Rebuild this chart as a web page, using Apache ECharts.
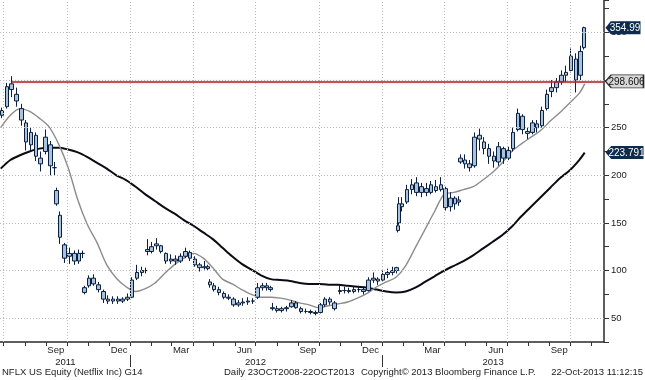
<!DOCTYPE html>
<html><head><meta charset="utf-8">
<script src="https://cdn.jsdelivr.net/npm/echarts@6/dist/echarts.min.js"></script>
<style>html,body{margin:0;padding:0;background:#fff}#c{width:645px;height:380px}</style>
</head><body><div id="c"></div>
<script>
// ---- price bars (OHLC, mostly weekly; split around gap days) ----
const barDates = ['2011-06-29','2011-07-06','2011-07-13','2011-07-20','2011-07-27','2011-08-03','2011-08-10','2011-08-17','2011-08-24','2011-08-31',
'2011-09-07','2011-09-13','2011-09-16','2011-09-21','2011-09-28','2011-10-05','2011-10-12','2011-10-19','2011-10-24','2011-10-27',
'2011-11-02','2011-11-09','2011-11-16','2011-11-23','2011-11-30','2011-12-07','2011-12-14','2011-12-21','2011-12-28','2012-01-04',
'2012-01-11','2012-01-18','2012-01-23','2012-01-26','2012-02-01','2012-02-08','2012-02-15','2012-02-22','2012-02-29','2012-03-07',
'2012-03-14','2012-03-21','2012-03-28','2012-04-04','2012-04-11','2012-04-18','2012-04-23','2012-04-26','2012-05-02','2012-05-09',
'2012-05-16','2012-05-23','2012-05-30','2012-06-06','2012-06-13','2012-06-20','2012-06-27','2012-07-04','2012-07-11','2012-07-18',
'2012-07-23','2012-07-26','2012-08-01','2012-08-08','2012-08-15','2012-08-22','2012-08-29','2012-09-05','2012-09-12','2012-09-19',
'2012-09-26','2012-10-03','2012-10-10','2012-10-17','2012-10-24','2012-11-01','2012-11-07','2012-11-14','2012-11-21','2012-11-28',
'2012-12-05','2012-12-12','2012-12-19','2012-12-26','2013-01-02','2013-01-09','2013-01-16','2013-01-22','2013-01-24','2013-01-25',
'2013-01-30','2013-02-06','2013-02-13','2013-02-20','2013-02-27','2013-03-06','2013-03-13','2013-03-20','2013-03-27','2013-04-03',
'2013-04-10','2013-04-17','2013-04-22','2013-04-25','2013-05-01','2013-05-08','2013-05-15','2013-05-22','2013-05-29','2013-06-05',
'2013-06-12','2013-06-19','2013-06-26','2013-07-03','2013-07-10','2013-07-17','2013-07-24','2013-07-31','2013-08-07','2013-08-14',
'2013-08-21','2013-08-28','2013-09-04','2013-09-11','2013-09-18','2013-09-25','2013-10-02','2013-10-09','2013-10-16','2013-10-21'];
const barOpen = [263,272,296,285,270,255,232,242,218,225, 232,208,184,158,127,115,118,110,118,77, 84,92,85,78,70,68,70,68,70,72,
92,98,100,122,120,126,126,118,110,112, 110,115,119,112,106,103,104,88,84,80, 76,72,70,64,66,67,68,72,82,84,
82,60,60,58,60,62,66,60,57,57, 56,56,64,70,66,78,79,79,78,80, 80,79,90,91,90,96,98,100,142,150,
167,172,185,192,182,186,182,188,185,186, 167,176,172,214,216,212,210,242,235,228, 220,214,228,218,228,248,262,246,245,254,
252,270,288,292,298,305,310,322,305,334];
const barClose = [268,293,290,278,258,235,245,220,212,240, 210,208,170,135,113,118,110,118,118,82, 92,86,80,70,68,70,68,70,72,90,
98,100,100,120,125,128,120,110,112,110, 115,120,113,106,103,104,102,85,80,77, 72,71,64,66,67,68,68,82,84,82,
80,61,58,60,61,66,61,57,57,56, 55,64,70,67,60,79,79,78,80,80, 78,90,92,89,96,98,100,103,147,170,
170,185,190,182,188,182,190,184,190,166, 176,170,174,218,212,208,240,238,228,220, 215,230,218,226,245,265,248,244,255,250,
268,285,292,298,305,308,325,300,330,354.99];
const barLow = [260,270,282,272,252,226,225,215,204,222, 200,200,168,128,108,107,106,107,113,75, 82,84,77,66,65,65,65,66,68,71,
90,94,97,116,118,122,118,107,107,106, 108,113,110,104,99,101,100,82,78,74, 70,69,62,62,63,64,65,70,79,79,
78,58,56,56,57,61,60,55,55,54, 53,55,62,64,58,75,76,76,76,77, 75,78,87,85,88,92,95,97,140,148,
162,170,180,178,177,178,180,182,183,163, 162,164,168,212,207,204,208,226,222,212, 208,210,212,216,225,246,243,238,243,245,
250,268,282,287,295,298,308,287,300,332];
const barHigh = [271,297,304,292,275,258,250,245,225,248, 236,214,187,162,129,124,121,122,121,84, 95,96,88,80,74,73,73,72,76,93,
106,104,103,133,130,134,127,119,117,116, 118,124,121,115,108,110,106,91,87,83, 78,75,72,69,71,72,71,87,87,87,
84,66,63,62,63,69,68,62,60,59, 58,66,72,72,68,85,83,82,83,84, 82,93,98,93,100,102,104,104,160,177,
177,190,196,198,192,192,194,195,198,188, 182,178,178,222,222,216,245,249,240,233, 225,235,230,230,250,270,264,250,258,258,
272,290,300,302,310,315,333,328,336,356];

// ---- moving averages (biweekly readings) ----
const maDates = ['2011-06-27','2011-07-11','2011-07-25','2011-08-08','2011-08-22','2011-09-05','2011-09-19','2011-10-03','2011-10-17','2011-10-31',
'2011-11-14','2011-11-28','2011-12-12','2011-12-26','2012-01-09','2012-01-23','2012-02-06','2012-02-20','2012-03-05','2012-03-19',
'2012-04-02','2012-04-16','2012-04-30','2012-05-14','2012-05-28','2012-06-11','2012-06-25','2012-07-09','2012-07-23','2012-08-06',
'2012-08-20','2012-09-03','2012-09-17','2012-10-01','2012-10-15','2012-10-29','2012-11-12','2012-11-26','2012-12-10','2012-12-24',
'2013-01-07','2013-01-21','2013-02-04','2013-02-18','2013-03-04','2013-03-18','2013-04-01','2013-04-15','2013-04-29','2013-05-13',
'2013-05-27','2013-06-10','2013-06-24','2013-07-08','2013-07-22','2013-08-05','2013-08-19','2013-09-02','2013-09-16','2013-09-30',
'2013-10-14','2013-10-22'];
const ma50 = [250,263,270,267,260,251,233,208,174,148, 129,106,92,83,78,81,87,97,106,113, 118,113,103,91,86,80,75,72,72,71,
69,66,64,61,63,65,67,71,76,83, 88,93,105,124,143,162,180,182,185,188, 195,203,213,225,233,240,247,257,266,276, 286,296];
const ma200 = [207,216,221,225,228,229,229,227,224,219, 213,207,200,195,188,180,173,166,160,153, 147,140,133,124,115,107,101,95,91,90,
89,87,86,86,85,85,84,83,82,80, 78,77,78,82,88,94,100,105,110,116, 123,130,137,146,157,167,177,187,197,205, 216,223.791];

// ---- reference levels / labels ----
const levelValue = 298.606, levelStart = '2011-07-13';
const lastPrice = 354.99, ma200Last = 223.791;
const axisStart = '2011-06-26', axisEnd = '2013-11-19';
const gridLevels = [50,100,150,200,250,300,350];
const gridQuarters = ['2011-07-01','2011-10-01','2012-01-01','2012-04-01','2012-07-01','2012-10-01','2013-01-01','2013-04-01','2013-07-01','2013-10-01'];
const monthTicks = ['2011-07-01','2011-08-01','2011-09-01','2011-10-01','2011-11-01','2011-12-01','2012-01-01','2012-02-01','2012-03-01','2012-04-01',
'2012-05-01','2012-06-01','2012-07-01','2012-08-01','2012-09-01','2012-10-01','2012-11-01','2012-12-01','2013-01-01','2013-02-01',
'2013-03-01','2013-04-01','2013-05-01','2013-06-01','2013-07-01','2013-08-01','2013-09-01','2013-10-01','2013-11-01'];
const monthLabelDates = ['2011-09-15','2011-12-16','2012-03-15','2012-06-15','2012-09-15','2012-12-15','2013-03-15','2013-06-15','2013-09-15'];
const monthLabels = ['Sep','Dec','Mar','Jun','Sep','Dec','Mar','Jun','Sep'];
const yearTicks = ['2012-01-01','2013-01-01'];
const yearLabelDates = ['2011-09-29','2012-07-01','2013-06-11'];
const yearLabels = ['2011','2012','2013'];
const footer = ['NFLX US Equity (Netflix Inc) G14','Daily 23OCT2008-22OCT2013','Copyright\u00a9 2013 Bloomberg Finance L.P.','22-Oct-2013 11:12:15'];

function ts(s){const p=s.split('-');return Date.UTC(+p[0],+p[1]-1,+p[2]);}
const xMin = ts(axisStart), xMax = ts(axisEnd);
const FONT = 'Liberation Sans';
const mLab = {}; monthLabelDates.forEach((d,i)=>mLab[ts(d)] = monthLabels[i]);
const yLab = {}; yearLabelDates.forEach((d,i)=>yLab[ts(d)] = yearLabels[i]);

const candles = barDates.map((d,i)=>[ts(d), barOpen[i], barClose[i], barLow[i], barHigh[i]]);
const g50 = maDates.map((d,i)=>[ts(d), ma50[i]]);
const g200 = maDates.map((d,i)=>[ts(d), ma200[i]]);

const boxPath = 'path://M0,6 L6,0 L40,0 L40,12 L6,12 Z';
const navy = '#0e2a4c';

const chart = echarts.init(document.getElementById('c'), null, {renderer:'canvas'});
chart.setOption({
  animation:false,
  backgroundColor:'#fff',
  grid:{left:0, right:41, top:0, bottom:38, containLabel:false},
  xAxis:[{
    type:'value', min:xMin, max:xMax,
    axisLine:{show:true, onZero:false, lineStyle:{color:'#2a2a2a', width:1.5}},
    axisTick:{show:true, length:4, customValues:monthTicks.map(ts), lineStyle:{color:'#333'}},
    axisLabel:{show:true, customValues:monthLabelDates.map(ts), formatter:v=>mLab[v]||'', margin:3,
      color:'#222', fontSize:9.5, fontFamily:FONT, hideOverlap:false},
    splitLine:{show:false}
  },{
    type:'value', min:xMin, max:xMax, position:'bottom', offset:13,
    axisLine:{show:false},
    axisTick:{show:true, length:12, customValues:yearTicks.map(ts), lineStyle:{color:'#333'}},
    axisLabel:{show:true, customValues:yearLabelDates.map(ts), formatter:v=>yLab[v]||'', margin:2,
      color:'#222', fontSize:9.5, fontFamily:FONT},
    splitLine:{show:false}
  }],
  yAxis:{
    type:'value', position:'right', min:25, max:384, interval:25, scale:true,
    axisLine:{show:true, onZero:false, lineStyle:{color:'#2a2a2a', width:1.5}},
    axisTick:{show:true, length:5, inside:false, lineStyle:{color:'#333'}},
    axisLabel:{formatter:v=>(v%50===0 && v<=350)?String(v):'', margin:7, color:'#222', fontSize:9.5, fontFamily:FONT},
    splitLine:{show:false}
  },
  series:[
    {
      type:'line', data:[], z:1, silent:true,
      markLine:{silent:true, symbol:['none','none'], label:{show:false}, animation:false,
        lineStyle:{type:[1,2], color:'#b8b8b8', width:1},
        emphasis:{disabled:true},
        data:[...gridLevels.map(v=>({yAxis:v})), ...gridQuarters.map(d=>({xAxis:ts(d)}))]}
    },
    {
      name:'ma200', type:'line', data:g200, z:2, showSymbol:false, symbol:'none', smooth:0.3,
      lineStyle:{color:'#0b0b14', width:2}, silent:true
    },
    {
      name:'ma50', type:'line', data:g50, z:2, showSymbol:false, symbol:'none', smooth:0.3,
      lineStyle:{color:'#8c8c8c', width:1.4}, silent:true,
      markLine:{silent:true, symbol:['none','none'], label:{show:false}, animation:false,
        lineStyle:{type:'solid', color:'#a8262b', width:1.5, shadowColor:'rgba(220,90,90,0.45)', shadowBlur:3},
        data:[[{coord:[ts(levelStart), levelValue]},{coord:[xMax, levelValue]}]]},
      markPoint:{silent:true, animation:false, symbol:boxPath, symbolKeepAspect:false,
        label:{show:true, position:'inside', formatter:p=>p.name, fontSize:10, fontFamily:FONT, offset:[2,0.5]},
        data:[
          {name:String(lastPrice), coord:[xMax, lastPrice], symbolSize:[35,13], symbolOffset:[19,0],
            itemStyle:{color:navy}, label:{color:'#fff'}},
          {name:String(levelValue), coord:[xMax, levelValue], symbolSize:[38,13], symbolOffset:[20.5,0],
            itemStyle:{color:'#d8d8d8', borderColor:'#333', borderWidth:1}, label:{color:'#111'}},
          {name:String(ma200Last), coord:[xMax, ma200Last], symbolSize:[38,13], symbolOffset:[20.5,0],
            itemStyle:{color:navy}, label:{color:'#fff'}}
        ]}
    },
    {
      name:'NFLX', type:'candlestick', z:3, barWidth:4,
      dimensions:['time','open','close','lowest','highest'],
      encode:{x:0, y:[1,2,3,4]},
      data:candles,
      itemStyle:{color:'#a9c2de', color0:'#a9c2de', borderColor:'#0b1f3f', borderColor0:'#0b1f3f', borderWidth:1},
      silent:true
    }
  ],
  graphic:[
    {type:'text', left:2, top:367, style:{text:footer[0], fontSize:9.5, fontFamily:FONT, fill:'#222'}},
    {type:'text', left:224, top:367, style:{text:footer[1], fontSize:9.5, fontFamily:FONT, fill:'#222'}},
    {type:'text', left:361, top:367, style:{text:footer[2], fontSize:9.5, fontFamily:FONT, fill:'#222'}},
    {type:'text', right:2, top:367, style:{text:footer[3], fontSize:9.5, fontFamily:FONT, fill:'#222'}}
  ]
});
</script></body></html>
